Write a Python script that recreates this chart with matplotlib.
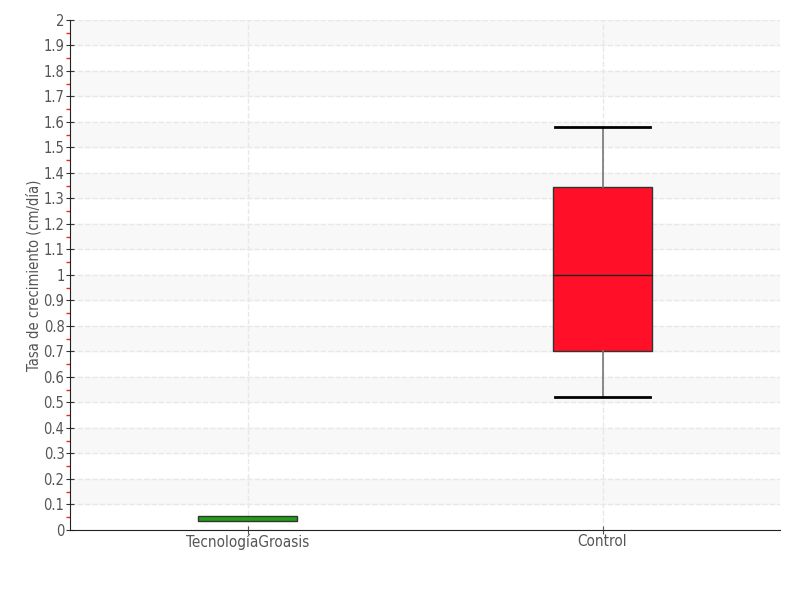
import numpy as np
import matplotlib.pyplot as plt
from matplotlib.ticker import MultipleLocator, FixedLocator

categories = ['TecnologíaGroasis', 'Control']
q1 = [0.035, 0.70]
median = [0.045, 1.00]
q3 = [0.055, 1.345]
whisker_low = [0.035, 0.52]
whisker_high = [0.055, 1.58]
box_colors = ['#22a015', '#ff0f28']

plt.rcParams['font.family'] = ['DejaVu Sans']
plt.rcParams['font.stretch'] = 'condensed'

fig = plt.figure(figsize=(8, 6), dpi=100)
ax = fig.add_axes([0.0875, 0.1167, 0.8875, 0.85])

# alternating bands
for lo in np.arange(0.1, 2.0, 0.2):
    ax.axhspan(lo, lo + 0.1, color='#f8f8f8', zorder=0)

stats = []
for i, name in enumerate(categories):
    stats.append(dict(label=name, med=median[i], q1=q1[i], q3=q3[i],
                      whislo=whisker_low[i], whishi=whisker_high[i], fliers=[]))

bp = ax.bxp(stats, positions=[0, 1], widths=0.28, capwidths=0.27, patch_artist=True,
            showfliers=False, manage_ticks=False, zorder=3)
for patch, c in zip(bp['boxes'], box_colors):
    patch.set_facecolor(c)
    patch.set_edgecolor('#333333')
    patch.set_linewidth(1)
for m in bp['medians']:
    m.set_color('#222222')
    m.set_linewidth(1)
for w in bp['whiskers']:
    w.set_color('#777777')
    w.set_linewidth(1.2)
for cap in bp['caps']:
    cap.set_color('black')
    cap.set_linewidth(2)
# the tiny Groasis box shows no caps or median line
bp['caps'][0].set_visible(False)
bp['caps'][1].set_visible(False)
bp['medians'][0].set_visible(False)

ax.set_xlim(-0.5, 1.5)
ax.set_ylim(0, 2)
ax.set_xticks([0, 1])
ax.set_xticklabels(categories)
ax.yaxis.set_major_locator(MultipleLocator(0.1))
ax.yaxis.set_minor_locator(FixedLocator(np.arange(0.05, 2.0, 0.1)))
ax.set_yticklabels([('%.1f' % v).rstrip('0').rstrip('.') for v in ax.get_yticks()])
ax.tick_params(axis='y', which='major', direction='inout', length=6, color='#333333',
               labelsize=10.5, labelcolor='#555555', pad=1)
ax.tick_params(axis='y', which='minor', direction='out', length=3, width=1, color='#ff2020')
ax.tick_params(axis='x', direction='inout', length=6, color='#555555',
               labelsize=11, labelcolor='#555555', pad=0)

ax.grid(True, axis='both', which='major', linestyle='--', color='#e8e8e8', linewidth=1, zorder=1)
ax.set_axisbelow(True)
for s in ['top', 'right']:
    ax.spines[s].set_visible(False)
ax.spines['left'].set_color('#222222')
ax.spines['bottom'].set_color('#222222')

ax.set_ylabel('Tasa de crecimiento (cm/día)', fontsize=10.5, color='#555555')
ax.yaxis.set_label_coords(-0.04, 0.5)

fig.savefig('out.png', dpi=100)
